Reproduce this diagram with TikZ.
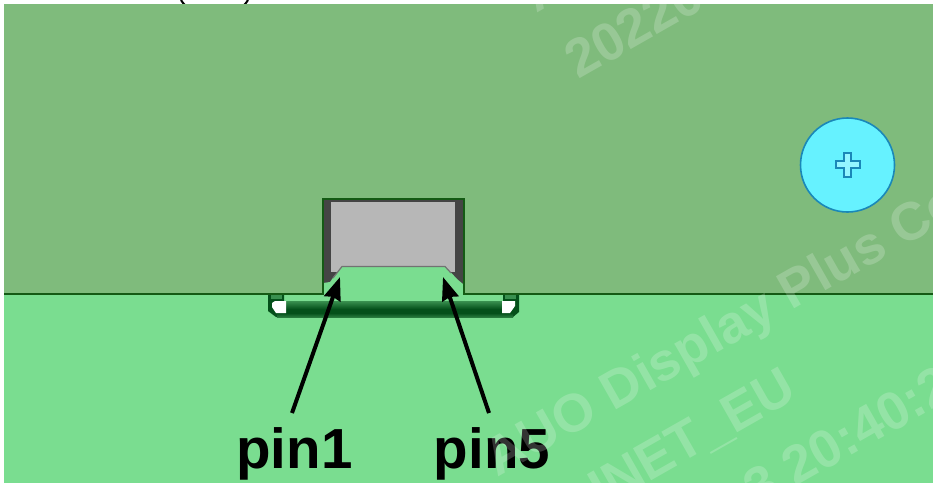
\documentclass[tikz,border=0pt]{standalone}
\usepackage{fontspec}
\setmainfont{Liberation Sans}
\usetikzlibrary{arrows.meta}
\definecolor{upperg}{HTML}{7FBB7C}
\definecolor{lowerg}{HTML}{7ADD90}
\definecolor{edgeg}{HTML}{145A14}
\definecolor{darkg}{HTML}{04501A}
\definecolor{stripg}{HTML}{444444}
\definecolor{windowg}{HTML}{B7B7B7}
\definecolor{cyanf}{HTML}{66F2FF}
\definecolor{cyane}{HTML}{1A88B8}
\tikzset{
  x=1pt,y=-1pt,
  pinlabel/.style={font=\fontsize{56.5}{57}\selectfont\bfseries,text=black,inner sep=0pt,anchor=base},
  pinarrow/.style={line width=4pt,black,-{Stealth[length=23pt,width=17pt,inset=2pt]}},
  mark text/.style={font=\fontsize{53.5}{55}\selectfont\bfseries,text=white,text opacity=0.2,inner sep=0pt,anchor=base west,rotate=29.6},
}
\begin{document}
\begin{tikzpicture}
\useasboundingbox (0,0) rectangle (933,483);
\fill[white] (0,0) rectangle (933,483);
% clipped text at the top
\draw[black,line width=2pt] (181,0) .. controls (182,2) and (183,3) .. (185,5);
\draw[black,line width=2pt] (248,0) .. controls (247,2) and (246,3) .. (244,5);
% panels
\fill[upperg] (4,4) rectangle (933,294);
\fill[lowerg] (4,294) rectangle (933,483);
% bar under the notch
\fill[darkg] (268,295) -- (284,295) -- (284,302) -- (503,302) -- (503,295) -- (519,295) -- (519,312) -- (513,317) -- (276,317) -- (268,311) -- cycle;
\shade[top color=lowerg!45!darkg,bottom color=darkg] (284,301) rectangle (503,309);
\shade[top color=darkg,bottom color=lowerg!30!darkg] (277,313) rectangle (513,317);
\fill[lowerg!45!darkg] (271,295) rectangle (282,299);
\fill[lowerg!45!darkg] (505,295) rectangle (516,299);
\fill[white] (272,303) -- (275,301) -- (286,301) -- (286,313) -- (276,313) -- (272,307) -- cycle;
\fill[white] (502,301) -- (515,301) -- (515,306) -- (510,313) -- (502,313) -- cycle;
% notch
\fill[stripg] (323,199) rectangle (463,290);
\fill[windowg] (331,202) rectangle (455,272);
\fill[lowerg] (323,295) -- (323,283) -- (330,282) -- (335,275) -- (342,266) -- (445,266) -- (457,279) -- (463,284) -- (463,295) -- cycle;
\draw[stripg!60!windowg,line width=1.2pt] (333,278) -- (342,266.5) -- (445,266.5) -- (451,273);
\draw[edgeg,line width=2pt] (4,294) -- (323,294) -- (323,198.5) -- (463.5,198.5) -- (463.5,294) -- (933,294);
% screw hole
\node[circle,draw=cyane,fill=cyanf,line width=1.6pt,minimum size=94pt,inner sep=0pt] (hole) at (847.5,165) {};
\draw[cyane,fill=cyanf!70!white,line width=2pt]
  (844,153) -- (851,153) -- (851,161) -- (859.5,161) -- (859.5,168) -- (851,168) -- (851,176.5) -- (844,176.5) -- (844,168) -- (835.5,168) -- (835.5,161) -- (844,161) -- cycle;
% labels and arrows
\node[pinlabel] (pina) at (294.5,468) {pin1};
\node[pinlabel] (pinb) at (492,468) {pin5};
\coordinate (pina start) at (292,413);
\coordinate (pina tip) at (340,277);
\coordinate (pinb start) at (489,413);
\coordinate (pinb tip) at (443,277);
\draw[pinarrow] (pina start) -- (pina tip);
\draw[pinarrow] (pinb start) -- (pinb tip);
% watermark
\begin{scope}
\clip (4,4) rectangle (933,483);
\node[mark text] (wa) at (497,478) {AUO Display Plus Co};
\node[mark text] (wb) at (602,509) {INET\_EU};
\node[mark text] (wc) at (757,509) {3 20:40:2};
\node[mark text] (wd) at (578,80) {20220};
\node[mark text] (we) at (536,14) {A};
\end{scope}
\end{tikzpicture}
\end{document}
